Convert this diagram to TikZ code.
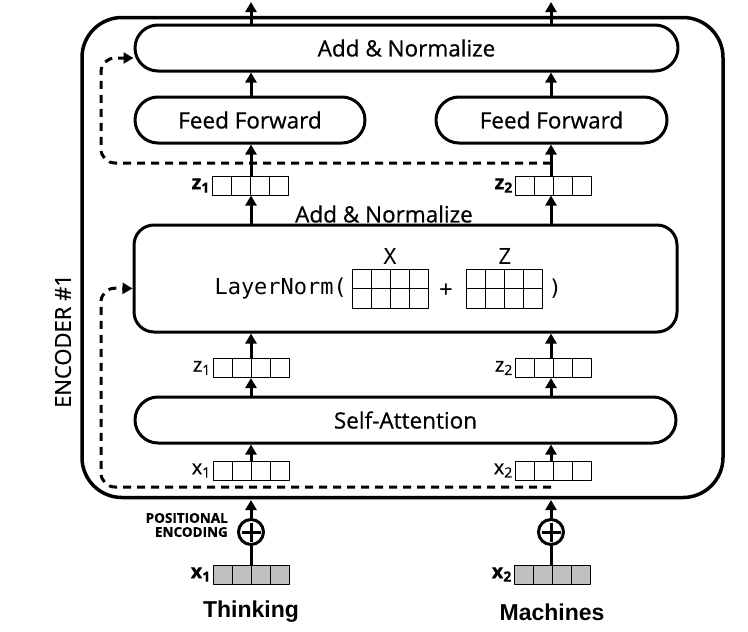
\documentclass[tikz,border=0pt]{standalone}
\usepackage{fontspec}
\setmainfont{Open Sans}[FakeBold=0.6]
\newfontfamily\monofont{DejaVu Sans Mono}
\newfontfamily\arialfont{Liberation Sans}
\usetikzlibrary{arrows.meta,positioning}
\newcommand{\vlab}[2]{#1\raisebox{-0.3ex}{\fontsize{14}{14}\selectfont #2}}

\begin{document}
\begin{tikzpicture}[x=1pt,y=-1pt,line join=round,>={Triangle[length=10pt,width=11pt]},font=\fontsize{22.5}{26}\selectfont]
    \useasboundingbox (0,0) rectangle (748,632);
    \tikzset{
        block/.style={draw,line width=3pt,rounded corners=23pt,minimum height=46pt,inner sep=0pt},
        vec/.style={draw,line width=1pt,minimum width=76pt,minimum height=19pt,inner sep=0pt,
            path picture={\foreach \i in {1,2,3}
                \draw[line width=1pt] ([xshift=\i*19pt]path picture bounding box.south west) -- ([xshift=\i*19pt]path picture bounding box.north west);}},
        emb/.style={vec,fill=black!25},
        mat/.style={draw,line width=1pt,minimum width=76pt,minimum height=39pt,inner sep=0pt,
            path picture={\foreach \i in {1,2,3}
                \draw[line width=1pt] ([xshift=\i*19pt]path picture bounding box.south west) -- ([xshift=\i*19pt]path picture bounding box.north west);
                \draw[line width=1pt] (path picture bounding box.west) -- (path picture bounding box.east);}},
        mono/.style={font=\monofont\fontsize{22}{25}\selectfont},
        lab/.style={inner sep=1pt,font=\bfseries\fontsize{20}{22}\selectfont},
        sublab/.style={inner sep=1pt,font=\fontsize{20}{22}\selectfont},
        arr/.style={->,line width=3pt},
        res/.style={->,line width=3pt,dash pattern=on 8pt off 6pt,rounded corners=14pt},
        plus/.style={draw,circle,line width=3pt,minimum size=25pt,inner sep=0pt,
            path picture={\draw[line width=3pt] ([xshift=3pt]path picture bounding box.west) -- ([xshift=-3pt]path picture bounding box.east)
                ([yshift=-3pt]path picture bounding box.north) -- ([yshift=3pt]path picture bounding box.south);}},
        word/.style={font=\arialfont\bfseries\fontsize{23}{26}\selectfont}
    }
    \node[draw,line width=3.5pt,rounded corners=40pt,minimum width=641pt,minimum height=480pt] (encoder) at (402.5,257.5) {};
    \node[rotate=90,font=\fontsize{22}{24}\selectfont] (enclabel) at (63,341) {ENCODER \#1};

    \node[block,minimum width=543pt] (addnorm2) at (406.5,48) {Add \& Normalize};
    \node[block,minimum width=230pt] (ff1) at (250,120) {Feed Forward};
    \node[block,minimum width=231pt] (ff2) at (551.5,120) {Feed Forward};
    \node[vec] (z1a) at (250,185.5) {};
    \node[vec] (z2a) at (553,185.5) {};
    \node[lab,left=1pt of z1a] {\vlab{z}{1}};
    \node[lab,left=1pt of z2a] {\vlab{z}{2}};

    \node (addnorm1) at (384,214) {Add \& Normalize};
    \node[block,rounded corners=20pt,minimum width=543pt,minimum height=107pt] (layernorm) at (405.5,278.5) {};
    \node[mat] (xmat) at (390,288.5) {};
    \node[mat] (zmat) at (504.5,288.5) {};
    \node[mono,above=0pt of xmat] {X};
    \node[mono,above=0pt of zmat] {Z};
    \node[mono,left=1pt of xmat] {LayerNorm(};
    \node[mono] at (446,290) {+};
    \node[mono,right=2pt of zmat] {)};

    \node[vec] (z1b) at (251,368) {};
    \node[vec] (z2b) at (553,368) {};
    \node[sublab,left=1pt of z1b] {\vlab{z}{1}};
    \node[sublab,left=1pt of z2b] {\vlab{z}{2}};
    \node[block,minimum width=541pt] (selfatt) at (405.5,420) {Self-Attention};
    \node[vec] (x1a) at (251,470.5) {};
    \node[vec] (x2a) at (553,470.5) {};
    \node[sublab,left=1pt of x1a] {\vlab{x}{1}};
    \node[sublab,left=1pt of x2a] {\vlab{x}{2}};

    \node[plus] (plus1) at (251,532) {};
    \node[plus] (plus2) at (551,532) {};
    \node[left=8pt of plus1,yshift=7pt,align=right,inner sep=1pt,font=\bfseries\fontsize{13.5}{14}\selectfont] (posenc) {POSITIONAL\\ENCODING};
    \node[emb] (x1e) at (251,574.5) {};
    \node[emb] (x2e) at (552,574.5) {};
    \node[lab,left=1pt of x1e] {\vlab{x}{1}};
    \node[lab,left=1pt of x2e] {\vlab{x}{2}};
    \node[word] (think) at (251,612) {Thinking};
    \node[word] (mach) at (552,612) {Machines};

    \coordinate (out1) at (251,2);
    \coordinate (out2) at (551,2);
    \coordinate (in1) at (251,500);
    \coordinate (in2) at (551,500);
    \coordinate (res1) at (551,163);
    \coordinate (res2) at (551,487);

    \draw[arr] (out1 |- addnorm2.north) -- (out1);
    \draw[arr] (out2 |- addnorm2.north) -- (out2);
    \draw[arr] (out1 |- ff1.north) -- (out1 |- addnorm2.south);
    \draw[arr] (out2 |- ff2.north) -- (out2 |- addnorm2.south);
    \draw[res] (res1) -- (101,163) -- (101,58) -- ([yshift=-10pt]addnorm2.west);
    \draw[arr] (out1 |- z1a.north) -- (out1 |- ff1.south);
    \draw[arr] (out2 |- z2a.north) -- (out2 |- ff2.south);
    \draw[arr] (out1 |- layernorm.north) -- (out1 |- z1a.south);
    \draw[arr] (out2 |- layernorm.north) -- (out2 |- z2a.south);
    \draw[arr] (out1 |- z1b.north) -- (out1 |- layernorm.south);
    \draw[arr] (out2 |- z2b.north) -- (out2 |- layernorm.south);
    \draw[arr] (out1 |- selfatt.north) -- (out1 |- z1b.south);
    \draw[arr] (out2 |- selfatt.north) -- (out2 |- z2b.south);
    \draw[arr] (out1 |- x1a.north) -- (out1 |- selfatt.south);
    \draw[arr] (out2 |- x2a.north) -- (out2 |- selfatt.south);
    \draw[res] (res2) -- (101,487) -- (101,288) -- ([yshift=-10pt]layernorm.west);
    \draw[arr] (plus1.north) -- (in1);
    \draw[arr] (plus2.north) -- (in2);
    \draw[line width=3pt] (x1e.north) -- (plus1.south);
    \draw[line width=3pt] (x2e.north -| plus2) -- (plus2.south);
\end{tikzpicture}
\end{document}
